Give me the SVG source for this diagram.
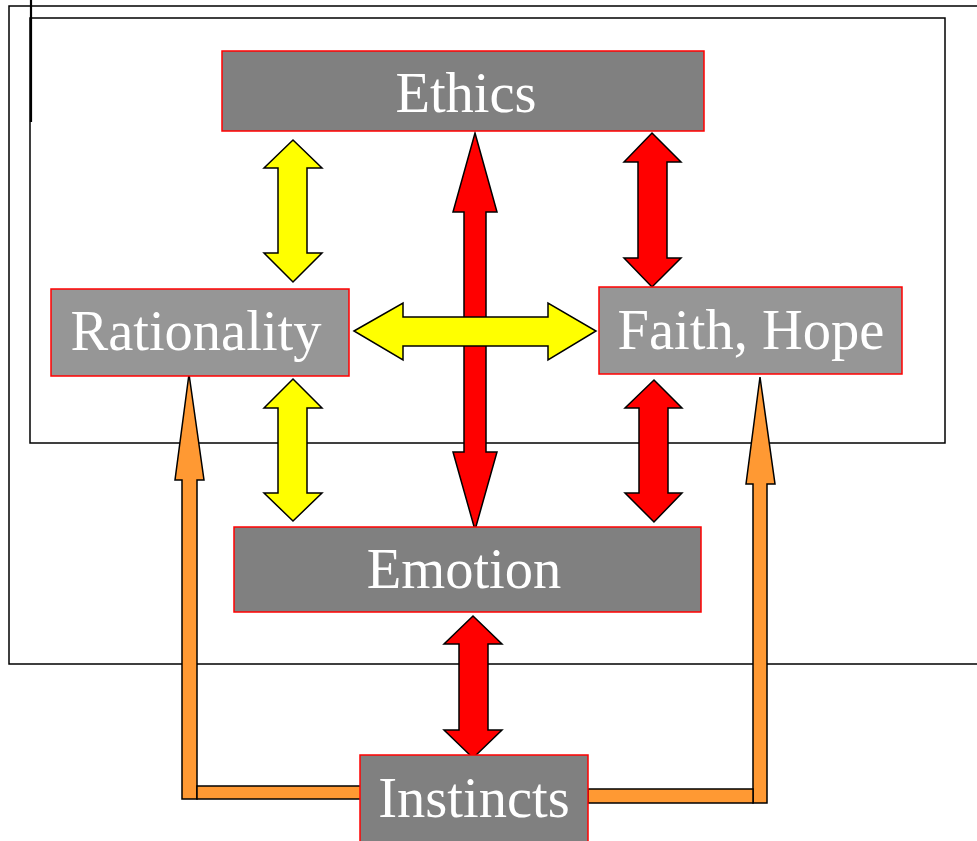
<svg xmlns="http://www.w3.org/2000/svg" width="977" height="841" viewBox="0 0 977 841">
<style>
.frame{fill:none;stroke:#000;stroke-width:1.5}
.box{stroke:#ff0000;stroke-width:1.5}
.dark{fill:#808080}
.light{fill:#969696}
.lbl{font-family:"Liberation Serif","Times New Roman",serif;font-size:56.5px;fill:#fff;text-anchor:middle}
.arr{stroke:#000;stroke-width:1.5;stroke-linejoin:miter}
.y{fill:#ffff00}
.r{fill:#ff0000}
.o{fill:#ff9933}
</style>
<rect width="977" height="841" fill="#fff"/>
<g id="frames">
<polyline class="frame" points="977,6 9,6 9,664 977,664"/>
<rect class="frame" x="30" y="18" width="915" height="425"/>
<line x1="31" y1="0" x2="31" y2="122" stroke="#000" stroke-width="2.2"/>
</g>
<g id="connectors">
<polygon class="arr y" points="293,140 322,168 307,168 307,253 322,253 293,282 264,253 278,253 278,168 264,168"/>
<polygon class="arr y" points="293,379 322,408 307,408 307,493 322,493 293,521 264,493 278,493 278,408 264,408"/>
<polygon class="arr r" points="475,133 497,212 486,212 486,452 497,452 475,530 453,452 464,452 464,212 453,212"/>
<polygon class="arr y" points="354,331 403,303 403,317 548,317 548,303 596,331 548,360 548,346 403,346 403,360"/>
<polygon class="arr r" points="652,133 681,162 667,162 667,258 681,258 652,287 624,258 638,258 638,162 624,162"/>
<polygon class="arr r" points="654,380 682,408 668,408 668,493 682,493 654,522 625,493 639,493 639,408 625,408"/>
<polygon class="arr r" points="473,616 502,644 488,644 488,730 502,730 473,758 444,730 459,730 459,644 444,644"/>
<polygon class="arr o" points="189,374 204,480 197,480 197,799 182,799 182,480 175,480"/>
<rect class="arr o" x="197" y="786" width="164" height="13"/>
<polygon class="arr o" points="760,377 775,484 767,484 767,803 753,803 753,484 746,484"/>
<rect class="arr o" x="588" y="789" width="165" height="14"/>
</g>
<g id="ethics">
<rect class="box dark" x="222" y="51" width="482" height="80"/>
<text class="lbl" x="466" y="112">Ethics</text>
</g>
<g id="rationality">
<rect class="box light" x="51" y="289" width="298" height="87"/>
<text class="lbl" x="196" y="350">Rationality</text>
</g>
<g id="faith-hope">
<rect class="box light" x="599" y="287" width="303" height="87"/>
<text class="lbl" x="751" y="349">Faith, Hope</text>
</g>
<g id="emotion">
<rect class="box dark" x="234" y="527" width="467" height="85"/>
<text class="lbl" x="464" y="588">Emotion</text>
</g>
<g id="instincts">
<rect class="box dark" x="360" y="755" width="228" height="92"/>
<text class="lbl" x="474" y="817">Instincts</text>
</g>
</svg>
